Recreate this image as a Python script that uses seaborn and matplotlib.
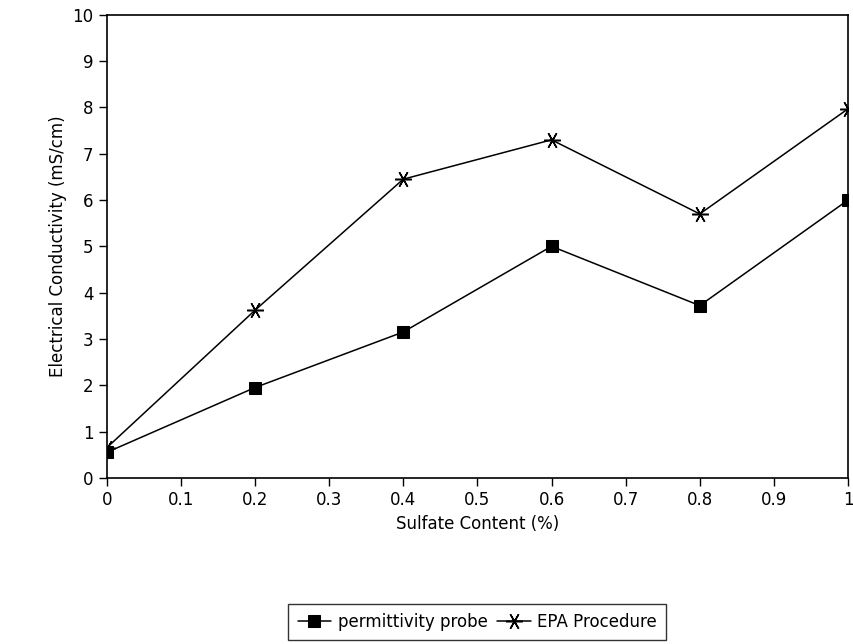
import matplotlib
matplotlib.use("Agg")
import matplotlib.pyplot as plt
import seaborn as sns
import pandas as pd

# values
sulfate = [0, 0.2, 0.4, 0.6, 0.8, 1.0]
probe = [0.55, 1.95, 3.15, 5.0, 3.72, 6.0]
epa = [0.65, 3.62, 6.45, 7.3, 5.7, 7.97]
x_ticks = [0, 0.1, 0.2, 0.3, 0.4, 0.5, 0.6, 0.7, 0.8, 0.9, 1]
x_labels = ["0", "0.1", "0.2", "0.3", "0.4", "0.5", "0.6", "0.7", "0.8", "0.9", "1"]
y_ticks = list(range(0, 11))

sns.set_style("white")
plt.rcParams["font.family"] = ["DejaVu Sans"]
plt.rcParams["text.color"] = "black"
plt.rcParams["axes.labelcolor"] = "black"
plt.rcParams["xtick.color"] = "black"
plt.rcParams["ytick.color"] = "black"

df = pd.DataFrame({"sulfate": sulfate, "probe": probe, "epa": epa})

fig = plt.figure(figsize=(8.54, 6.44), dpi=100)
ax = fig.add_axes([0.125, 0.258, 0.868, 0.719])

sns.lineplot(data=df, x="sulfate", y="probe", ax=ax, color="black", linewidth=1.1,
             marker="s", markersize=9, markeredgecolor="black",
             label="permittivity probe")
sns.lineplot(data=df, x="sulfate", y="epa", ax=ax, color="black", linewidth=1.1,
             marker=(6, 2, 90), markersize=12, markeredgewidth=1.1,
             markeredgecolor="black", label="EPA Procedure")

ax.set_xlim(0, 1)
ax.set_ylim(0, 10)
ax.set_xticks(x_ticks)
ax.set_xticklabels(x_labels)
ax.set_yticks(y_ticks)
ax.tick_params(axis="both", direction="out", length=6, width=1, color="black",
               labelsize=12, labelcolor="black", left=True, bottom=True)
for s in ax.spines.values():
    s.set_color("black")
    s.set_linewidth(1.2)

ax.set_xlabel("Sulfate Content (%)", fontsize=12)
ax.set_ylabel("Electrical Conductivity (mS/cm)", fontsize=12)

leg = ax.legend(loc="lower center", bbox_to_anchor=(0.5, -0.368), ncol=2,
                frameon=True, fancybox=False, fontsize=12, handlelength=2,
                columnspacing=0.6, handletextpad=0.4, borderpad=0.55)
leg.get_frame().set_edgecolor("black")
leg.get_frame().set_linewidth(1)

fig.savefig("out.png", dpi=100)
